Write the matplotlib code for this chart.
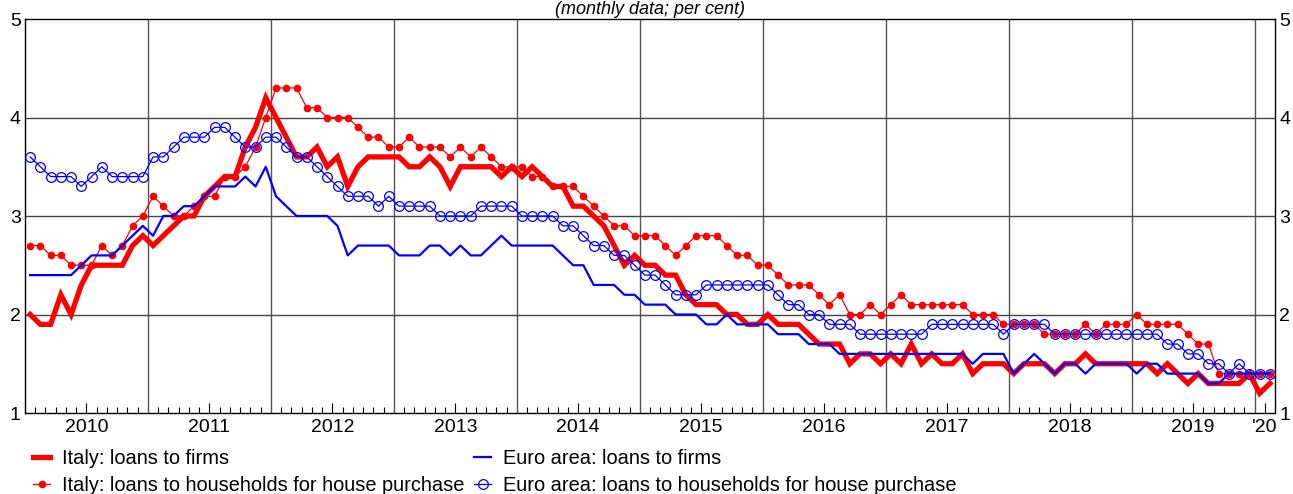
import numpy as np
import matplotlib
matplotlib.use("Agg")
import matplotlib.pyplot as plt
from matplotlib.ticker import FixedLocator, NullFormatter

plt.rcParams['font.family'] = ['Liberation Sans', 'DejaVu Sans']

# monthly data, Jan 2010 - Feb 2020 (per cent)
year_labels = ["2010", "2011", "2012", "2013", "2014", "2015", "2016", "2017", "2018", "2019", "'20"]

italy_firms = [
    2.0, 1.9, 1.9, 2.2, 2.0, 2.3, 2.5, 2.5, 2.5, 2.5,
    2.7, 2.8, 2.7, 2.8, 2.9, 3.0, 3.0, 3.2, 3.3, 3.4,
    3.4, 3.7, 3.9, 4.2, 4.0, 3.8, 3.6, 3.6, 3.7, 3.5,
    3.6, 3.3, 3.5, 3.6, 3.6, 3.6, 3.6, 3.5, 3.5, 3.6,
    3.5, 3.3, 3.5, 3.5, 3.5, 3.5, 3.4, 3.5, 3.4, 3.5,
    3.4, 3.3, 3.3, 3.1, 3.1, 3.0, 2.9, 2.7, 2.5, 2.6,
    2.5, 2.5, 2.4, 2.4, 2.2, 2.1, 2.1, 2.1, 2.0, 2.0,
    1.9, 1.9, 2.0, 1.9, 1.9, 1.9, 1.8, 1.7, 1.7, 1.7,
    1.5, 1.6, 1.6, 1.5, 1.6, 1.5, 1.7, 1.5, 1.6, 1.5,
    1.5, 1.6, 1.4, 1.5, 1.5, 1.5, 1.4, 1.5, 1.5, 1.5,
    1.4, 1.5, 1.5, 1.6, 1.5, 1.5, 1.5, 1.5, 1.5, 1.5,
    1.4, 1.5, 1.4, 1.3, 1.4, 1.3, 1.3, 1.3, 1.3, 1.4,
    1.2, 1.3,
]

italy_households = [
    2.7, 2.7, 2.6, 2.6, 2.5, 2.5, 2.5, 2.7, 2.6, 2.7,
    2.9, 3.0, 3.2, 3.1, 3.0, 3.0, 3.1, 3.2, 3.2, 3.4,
    3.4, 3.5, 3.7, 4.0, 4.3, 4.3, 4.3, 4.1, 4.1, 4.0,
    4.0, 4.0, 3.9, 3.8, 3.8, 3.7, 3.7, 3.8, 3.7, 3.7,
    3.7, 3.6, 3.7, 3.6, 3.7, 3.6, 3.5, 3.5, 3.5, 3.4,
    3.4, 3.3, 3.3, 3.3, 3.2, 3.1, 3.0, 2.9, 2.9, 2.8,
    2.8, 2.8, 2.7, 2.6, 2.7, 2.8, 2.8, 2.8, 2.7, 2.6,
    2.6, 2.5, 2.5, 2.4, 2.3, 2.3, 2.3, 2.2, 2.1, 2.2,
    2.0, 2.0, 2.1, 2.0, 2.1, 2.2, 2.1, 2.1, 2.1, 2.1,
    2.1, 2.1, 2.0, 2.0, 2.0, 1.9, 1.9, 1.9, 1.9, 1.8,
    1.8, 1.8, 1.8, 1.9, 1.8, 1.9, 1.9, 1.9, 2.0, 1.9,
    1.9, 1.9, 1.9, 1.8, 1.7, 1.7, 1.4, 1.4, 1.4, 1.4,
    1.4, 1.4,
]

euro_firms = [
    2.4, 2.4, 2.4, 2.4, 2.4, 2.5, 2.6, 2.6, 2.6, 2.7,
    2.8, 2.9, 2.8, 3.0, 3.0, 3.1, 3.1, 3.2, 3.3, 3.3,
    3.3, 3.4, 3.3, 3.5, 3.2, 3.1, 3.0, 3.0, 3.0, 3.0,
    2.9, 2.6, 2.7, 2.7, 2.7, 2.7, 2.6, 2.6, 2.6, 2.7,
    2.7, 2.6, 2.7, 2.6, 2.6, 2.7, 2.8, 2.7, 2.7, 2.7,
    2.7, 2.7, 2.6, 2.5, 2.5, 2.3, 2.3, 2.3, 2.2, 2.2,
    2.1, 2.1, 2.1, 2.0, 2.0, 2.0, 1.9, 1.9, 2.0, 1.9,
    1.9, 1.9, 1.9, 1.8, 1.8, 1.8, 1.7, 1.7, 1.7, 1.6,
    1.6, 1.6, 1.6, 1.6, 1.6, 1.6, 1.6, 1.6, 1.6, 1.6,
    1.6, 1.6, 1.5, 1.6, 1.6, 1.6, 1.4, 1.5, 1.6, 1.5,
    1.4, 1.5, 1.5, 1.4, 1.5, 1.5, 1.5, 1.5, 1.4, 1.5,
    1.5, 1.4, 1.4, 1.4, 1.4, 1.3, 1.3, 1.4, 1.4, 1.4,
    1.4, 1.4,
]

euro_households = [
    3.6, 3.5, 3.4, 3.4, 3.4, 3.3, 3.4, 3.5, 3.4, 3.4,
    3.4, 3.4, 3.6, 3.6, 3.7, 3.8, 3.8, 3.8, 3.9, 3.9,
    3.8, 3.7, 3.7, 3.8, 3.8, 3.7, 3.6, 3.6, 3.5, 3.4,
    3.3, 3.2, 3.2, 3.2, 3.1, 3.2, 3.1, 3.1, 3.1, 3.1,
    3.0, 3.0, 3.0, 3.0, 3.1, 3.1, 3.1, 3.1, 3.0, 3.0,
    3.0, 3.0, 2.9, 2.9, 2.8, 2.7, 2.7, 2.6, 2.6, 2.5,
    2.4, 2.4, 2.3, 2.2, 2.2, 2.2, 2.3, 2.3, 2.3, 2.3,
    2.3, 2.3, 2.3, 2.2, 2.1, 2.1, 2.0, 2.0, 1.9, 1.9,
    1.9, 1.8, 1.8, 1.8, 1.8, 1.8, 1.8, 1.8, 1.9, 1.9,
    1.9, 1.9, 1.9, 1.9, 1.9, 1.8, 1.9, 1.9, 1.9, 1.9,
    1.8, 1.8, 1.8, 1.8, 1.8, 1.8, 1.8, 1.8, 1.8, 1.8,
    1.8, 1.7, 1.7, 1.6, 1.6, 1.5, 1.5, 1.4, 1.5, 1.4,
    1.4, 1.4,
]

n = len(italy_firms)
x = np.arange(n) + 0.5   # middle of each month

fig = plt.figure(figsize=(12.93, 4.94), dpi=100)
ax = fig.add_axes([25 / 1293, 1 - 413 / 494, 1250 / 1293, 394 / 494])

# grid: years (vertical) and integer levels (horizontal)
for k in range(12, n, 12):
    ax.axvline(k, color="#555555", lw=1.0, zorder=0)
for v in [2, 3, 4]:
    ax.axhline(v, color="#444444", lw=1.0, zorder=0)

ax.plot(x, italy_firms, color="#ff0000", lw=3.8, solid_joinstyle="miter",
        label="Italy: loans to firms", zorder=2)
ax.plot(x, italy_households, color="#ff0000", lw=0.9, marker="o", markersize=4.5,
        label="Italy: loans to households for house purchase", zorder=3)
ax.plot(x, euro_firms, color="#0000ff", lw=1.6,
        label="Euro area: loans to firms", zorder=4)
ax.plot(x, euro_households, color="#0000ff", lw=0.9, marker="o", markersize=7,
        markerfacecolor="none", markeredgewidth=0.9,
        label="Euro area: loans to households for house purchase", zorder=5)

ax.set_xlim(0, n)
ax.set_ylim(1, 5)
ax.set_yticks([1, 2, 3, 4, 5])
ax.tick_params(axis="y", length=0, labelsize=14, left=True, right=True,
               labelleft=True, labelright=True, pad=3)

# year labels centred in each year, monthly minor ticks
label_pos = [6 + 12 * k for k in range(10)] + [121]
ax.xaxis.set_major_locator(FixedLocator(label_pos))
ax.set_xticklabels(year_labels)
ax.xaxis.set_minor_locator(FixedLocator([m for m in range(1, n) if m % 12 != 0]))
ax.xaxis.set_minor_formatter(NullFormatter())
ax.tick_params(axis="x", which="major", direction="in", length=7, width=0.8,
               labelsize=14, pad=4)
ax.tick_params(axis="x", which="minor", direction="in", length=4, width=0.8)

for s in ax.spines.values():
    s.set_linewidth(1.0)

fig.text(0.503, 1 - 14 / 494, "(monthly data; per cent)", ha="center", va="baseline",
         fontsize=13, style="italic")

fig.legend(loc="upper left", bbox_to_anchor=(33 / 1293, 1 - 449 / 494),
           ncol=2, frameon=False, fontsize=14.4, borderpad=0, borderaxespad=0,
           handlelength=0.85, handletextpad=0.6, columnspacing=0.5,
           labelspacing=0.4)

fig.savefig("out.png", dpi=100)
